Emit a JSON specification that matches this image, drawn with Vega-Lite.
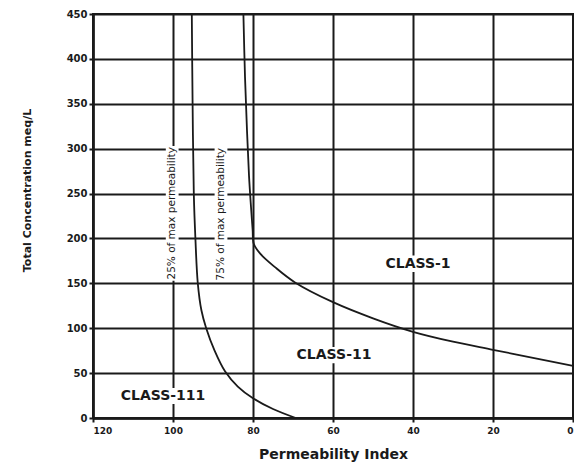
{
  "$schema": "https://vega.github.io/schema/vega-lite/v6.json",
  "width": 480,
  "height": 404,
  "autosize": "none",
  "padding": {"left": 93, "top": 14, "right": 1, "bottom": 46},
  "background": "white",
  "config": {
    "view": {"stroke": "#1a1a1a", "strokeWidth": 2},
    "axis": {
      "grid": true,
      "gridColor": "#1a1a1a",
      "gridWidth": 2,
      "gridOpacity": 1,
      "domainColor": "#1a1a1a",
      "domainWidth": 2.5,
      "tickColor": "#1a1a1a",
      "tickWidth": 2,
      "tickSize": 4,
      "labelFont": "DejaVu Sans",
      "labelFontWeight": "bold",
      "labelColor": "#1a1a1a",
      "titleColor": "#1a1a1a"
    }
  },
  "datasets": {
    "curves": [
      {"curve": "25%", "pi": 95.3, "tc": 450},
      {"curve": "25%", "pi": 95.1, "tc": 350},
      {"curve": "25%", "pi": 94.8, "tc": 250},
      {"curve": "25%", "pi": 94.4, "tc": 200},
      {"curve": "25%", "pi": 93.8, "tc": 150},
      {"curve": "25%", "pi": 92.9, "tc": 120},
      {"curve": "25%", "pi": 91.7, "tc": 100},
      {"curve": "25%", "pi": 89.6, "tc": 75},
      {"curve": "25%", "pi": 87.0, "tc": 52},
      {"curve": "25%", "pi": 83.8, "tc": 35},
      {"curve": "25%", "pi": 80.0, "tc": 22},
      {"curve": "25%", "pi": 75.0, "tc": 10},
      {"curve": "25%", "pi": 69.3, "tc": 0},
      {"curve": "75%", "pi": 82.4, "tc": 450},
      {"curve": "75%", "pi": 82.0, "tc": 380},
      {"curve": "75%", "pi": 81.5, "tc": 320},
      {"curve": "75%", "pi": 81.0, "tc": 270},
      {"curve": "75%", "pi": 80.5, "tc": 235},
      {"curve": "75%", "pi": 80.1, "tc": 210},
      {"curve": "75%", "pi": 79.8, "tc": 194},
      {"curve": "75%", "pi": 78.2, "tc": 183},
      {"curve": "75%", "pi": 74.5, "tc": 168},
      {"curve": "75%", "pi": 69.5, "tc": 151},
      {"curve": "75%", "pi": 60.0, "tc": 129},
      {"curve": "75%", "pi": 50.0, "tc": 111},
      {"curve": "75%", "pi": 40.0, "tc": 96},
      {"curve": "75%", "pi": 30.0, "tc": 85},
      {"curve": "75%", "pi": 20.0, "tc": 76},
      {"curve": "75%", "pi": 10.0, "tc": 67},
      {"curve": "75%", "pi": 0.0, "tc": 58}
    ],
    "classes": [
      {"label": "CLASS-1", "pi": 38.75, "tc": 172},
      {"label": "CLASS-11", "pi": 59.75, "tc": 70},
      {"label": "CLASS-111", "pi": 102.5, "tc": 24.5}
    ],
    "notes": [
      {"label": "25% of max permeability", "pi": 100.2, "tc": 228},
      {"label": "75% of max permeability", "pi": 88.0, "tc": 227}
    ],
    "masks": [
      {"pi1": 101.8, "pi2": 98.6, "tc1": 153, "tc2": 303},
      {"pi1": 89.6, "pi2": 86.4, "tc1": 152, "tc2": 302},
      {"pi1": 50, "pi2": 27.5, "tc1": 162.5, "tc2": 181},
      {"pi1": 72, "pi2": 47.5, "tc1": 61, "tc2": 79},
      {"pi1": 116, "pi2": 89, "tc1": 15.5, "tc2": 33.5}
    ]
  },
  "layer": [
    {
      "data": {"name": "masks"},
      "mark": {"type": "rect", "fill": "white", "stroke": null},
      "encoding": {
        "x": {
          "field": "pi1", "type": "quantitative",
          "scale": {"domain": [0, 120], "reverse": true, "nice": false, "zero": false},
          "axis": {
            "values": [120, 100, 80, 60, 40, 20, 0],
            "labelFontSize": 9,
            "labelPadding": 4,
            "title": "Permeability Index",
            "titleFont": "DejaVu Sans",
            "titleFontSize": 14,
            "titleFontWeight": "bold",
            "titlePadding": 12
          }
        },
        "x2": {"field": "pi2"},
        "y": {
          "field": "tc1", "type": "quantitative",
          "scale": {"domain": [0, 450], "nice": false, "zero": false},
          "axis": {
            "values": [0, 50, 100, 150, 200, 250, 300, 350, 400, 450],
            "labelFontSize": 10,
            "labelPadding": 2,
            "title": "Total Concentration  meq/L",
            "titleFont": "DejaVu Sans",
            "titleFontSize": 11,
            "titleFontWeight": "bold",
            "titlePadding": 34,
            "titleY": 176
          }
        },
        "y2": {"field": "tc2"}
      }
    },
    {
      "data": {"name": "curves"},
      "mark": {"type": "line", "color": "#1a1a1a", "strokeWidth": 1.8, "interpolate": "catmull-rom"},
      "encoding": {
        "x": {"field": "pi", "type": "quantitative"},
        "y": {"field": "tc", "type": "quantitative"},
        "detail": {"field": "curve"},
        "order": {"field": "tc", "type": "quantitative"}
      }
    },
    {
      "data": {"name": "classes"},
      "mark": {"type": "text", "font": "DejaVu Sans", "fontWeight": "bold", "fontSize": 14, "color": "#1a1a1a", "align": "center", "baseline": "middle"},
      "encoding": {
        "x": {"field": "pi", "type": "quantitative"},
        "y": {"field": "tc", "type": "quantitative"},
        "text": {"field": "label"}
      }
    },
    {
      "data": {"name": "notes"},
      "mark": {"type": "text", "font": "DejaVu Sans", "fontWeight": "normal", "fontSize": 10.5, "angle": 270, "color": "#1a1a1a", "align": "center", "baseline": "middle"},
      "encoding": {
        "x": {"field": "pi", "type": "quantitative"},
        "y": {"field": "tc", "type": "quantitative"},
        "text": {"field": "label"}
      }
    }
  ]
}
